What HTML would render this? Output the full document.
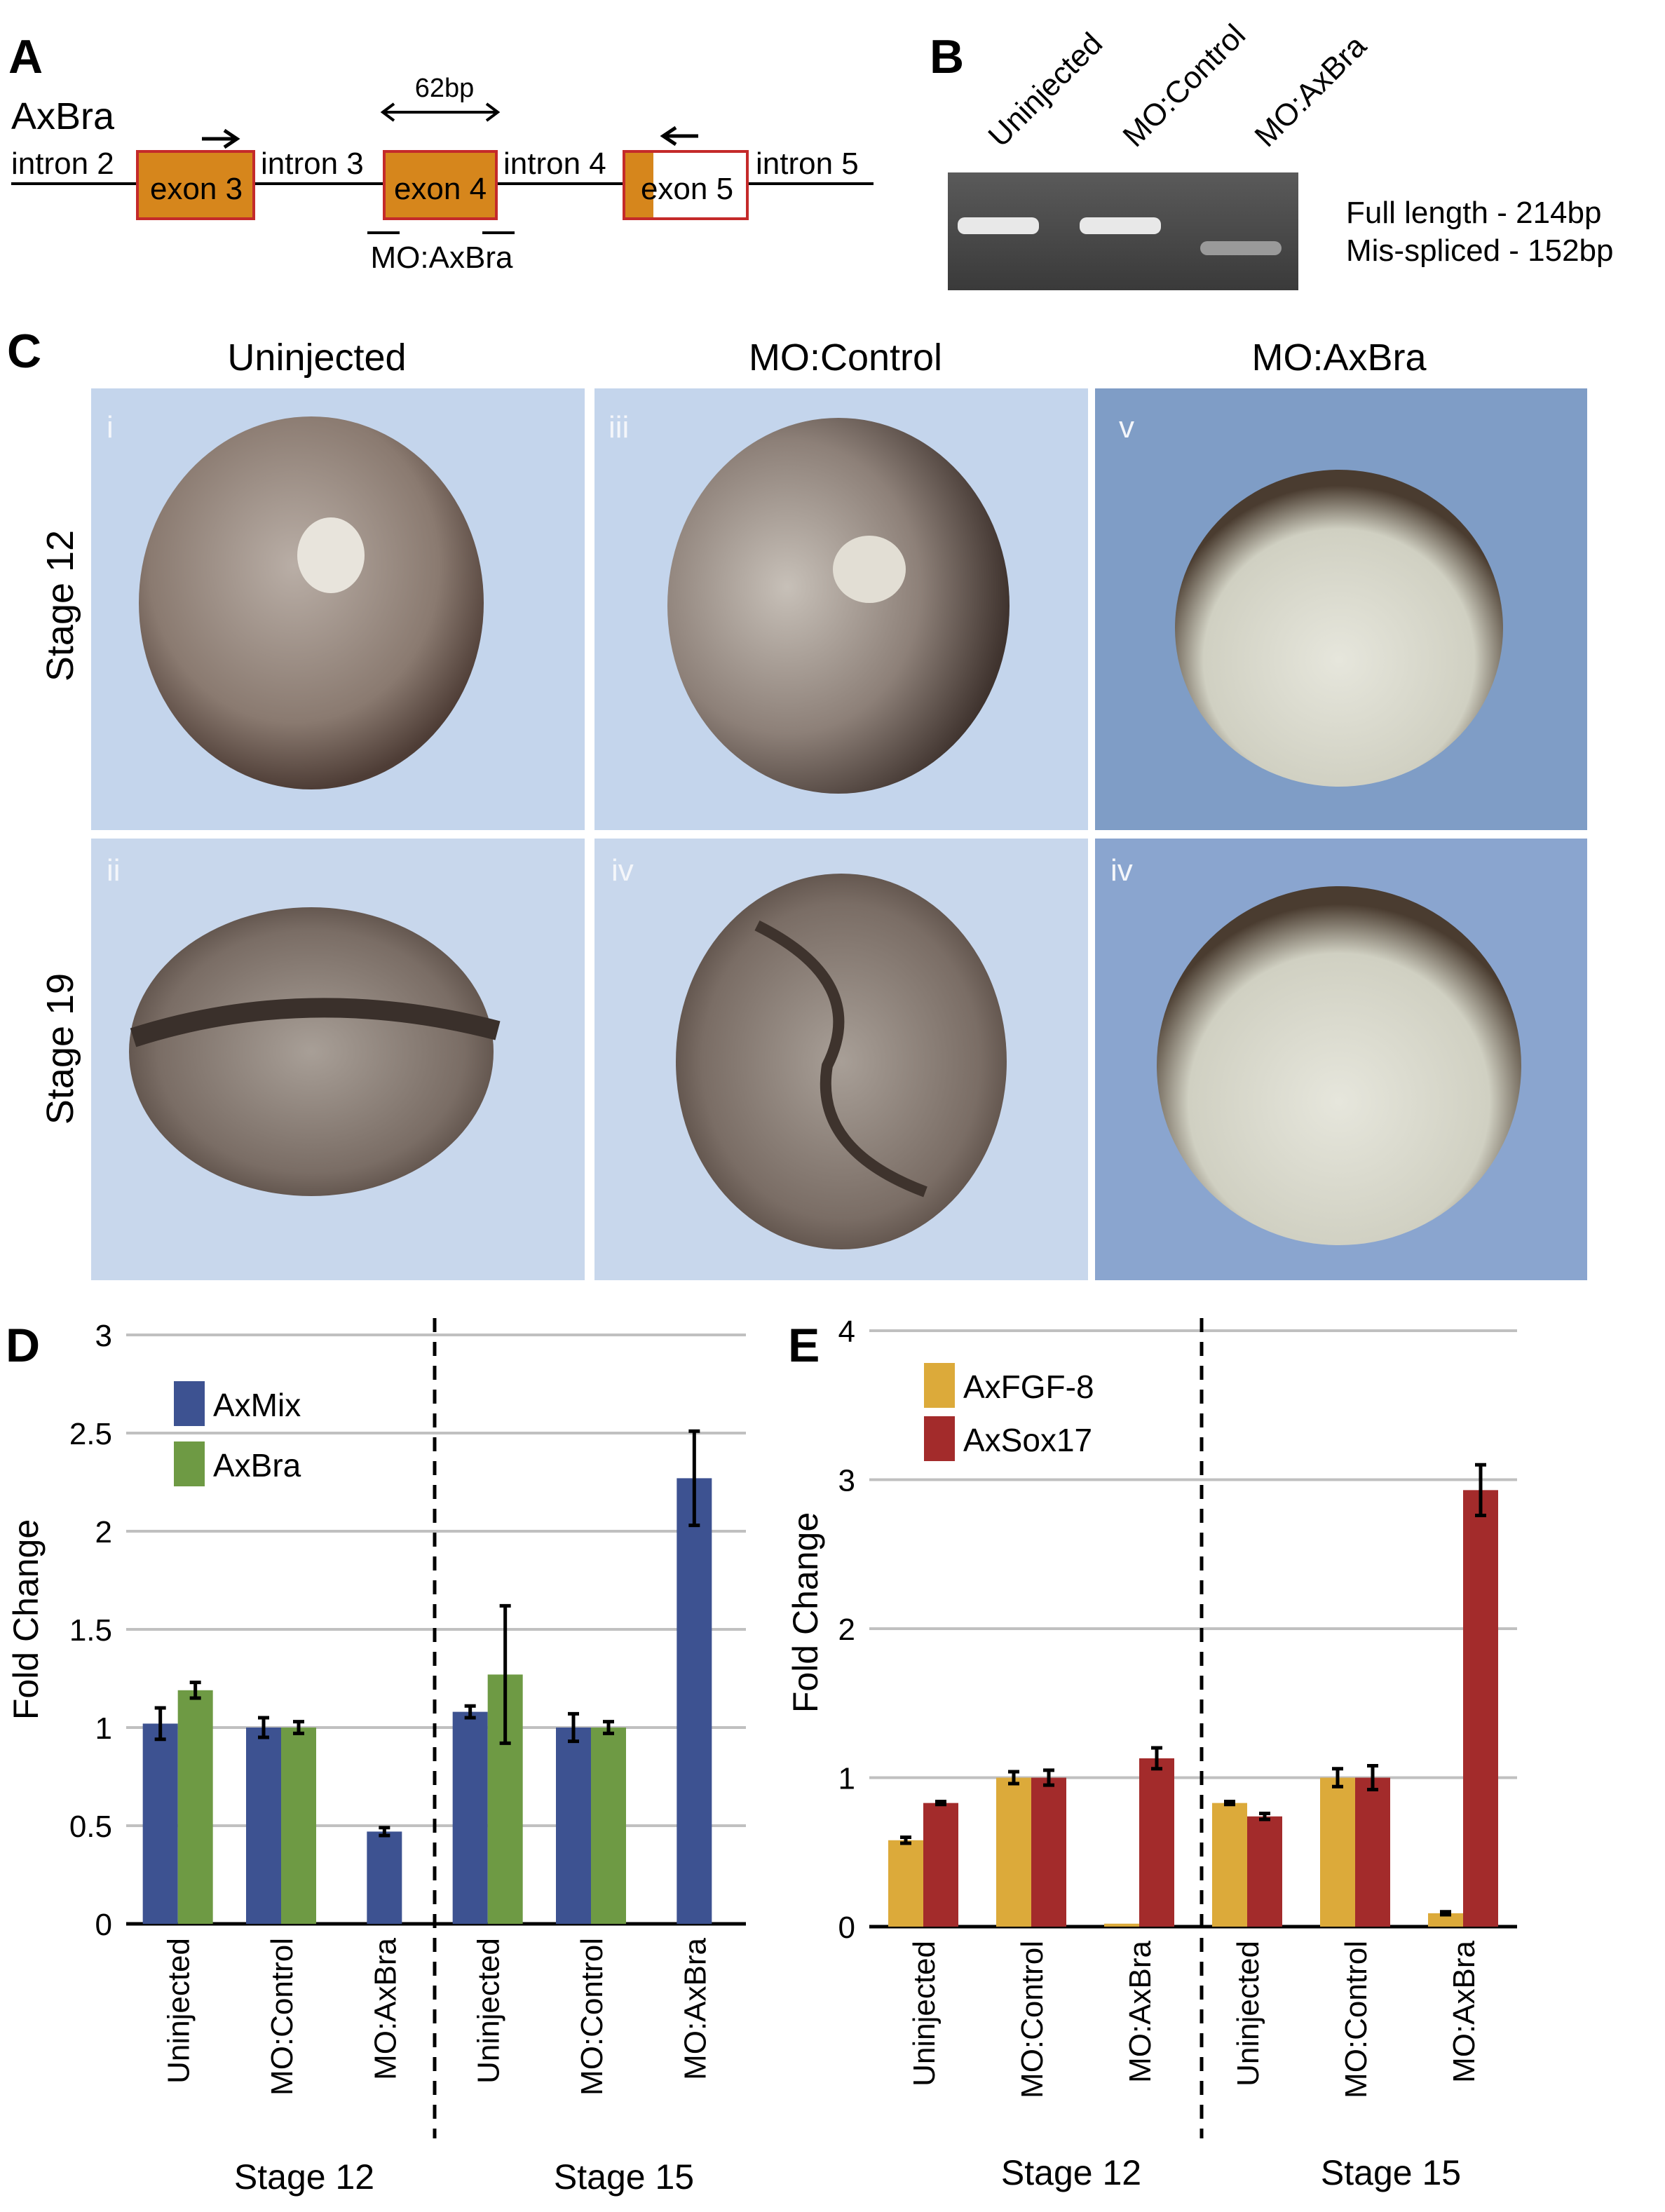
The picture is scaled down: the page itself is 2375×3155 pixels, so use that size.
<!DOCTYPE html>
<html><head><meta charset="utf-8"><style>
html,body{margin:0;padding:0;background:#fff}
svg{display:block;font-family:"Liberation Sans",Arial,sans-serif}
</style></head><body>
<svg id="fig" width="2375" height="3155" viewBox="0 0 1187.5 1577.5" xmlns="http://www.w3.org/2000/svg">
<defs>
<radialGradient id="emb1" cx="0.45" cy="0.4" r="0.6"><stop offset="0" stop-color="#b9aea6"/><stop offset="0.7" stop-color="#8a7a70"/><stop offset="1" stop-color="#4e3d36"/></radialGradient>
<radialGradient id="emb2" cx="0.35" cy="0.45" r="0.65"><stop offset="0" stop-color="#c7c0b8"/><stop offset="0.6" stop-color="#8d8078"/><stop offset="1" stop-color="#3f332e"/></radialGradient>
<radialGradient id="emb3" cx="0.5" cy="0.6" r="0.55"><stop offset="0" stop-color="#e6e6dc"/><stop offset="0.75" stop-color="#d0d0c2"/><stop offset="1" stop-color="#4a3c30"/></radialGradient>
<radialGradient id="emb4" cx="0.5" cy="0.5" r="0.6"><stop offset="0" stop-color="#a89f97"/><stop offset="0.7" stop-color="#7a6d65"/><stop offset="1" stop-color="#4a3d36"/></radialGradient>
<linearGradient id="gel" x1="0" y1="0" x2="0" y2="1"><stop offset="0" stop-color="#5a5a5a"/><stop offset="1" stop-color="#3a3a3a"/></linearGradient>
</defs>

<g>
<text x="6" y="52" font-size="34" font-weight="bold">A</text>
<text x="8" y="92" font-size="27">AxBra</text>
<line x1="8" y1="131" x2="623" y2="131" stroke="#000" stroke-width="2"/>
<rect x="98" y="108" width="83" height="48" fill="#d6861c" stroke="#c42a2a" stroke-width="2"/>
<rect x="274" y="108" width="80" height="48" fill="#d6861c" stroke="#c42a2a" stroke-width="2"/>
<rect x="445" y="108" width="88" height="48" fill="#fff" stroke="#c42a2a" stroke-width="2"/>
<rect x="446" y="109" width="20" height="46" fill="#d6861c"/>
<text x="140" y="142" font-size="22" text-anchor="middle">exon 3</text>
<text x="314" y="142" font-size="22" text-anchor="middle">exon 4</text>
<text x="490" y="142" font-size="22" text-anchor="middle">exon 5</text>
<rect x="6" y="103" width="88" height="26" fill="#fff"/><text x="8" y="124" font-size="22">intron 2</text>
<rect x="184" y="103" width="88" height="26" fill="#fff"/><text x="186" y="124" font-size="22">intron 3</text>
<rect x="357" y="103" width="86" height="26" fill="#fff"/><text x="359" y="124" font-size="22">intron 4</text>
<rect x="537" y="103" width="88" height="26" fill="#fff"/><text x="539" y="124" font-size="22">intron 5</text>
<line x1="144" y1="99" x2="168" y2="99" stroke="#000" stroke-width="2.5"/><path d="M160,93 L169,99 L160,105" fill="none" stroke="#000" stroke-width="2.5"/>
<line x1="474" y1="97" x2="498" y2="97" stroke="#000" stroke-width="2.5"/><path d="M482,91 L473,97 L482,103" fill="none" stroke="#000" stroke-width="2.5"/>
<line x1="274" y1="80" x2="354" y2="80" stroke="#000" stroke-width="2"/><path d="M281,74 L273,80 L281,86 M347,74 L355,80 L347,86" fill="none" stroke="#000" stroke-width="2"/>
<text x="317" y="69" font-size="19" text-anchor="middle">62bp</text>
<line x1="262" y1="166" x2="285" y2="166" stroke="#000" stroke-width="2"/><line x1="344" y1="166" x2="367" y2="166" stroke="#000" stroke-width="2"/>
<text x="315" y="191" font-size="22" text-anchor="middle">MO:AxBra</text>
</g>

<g>
<text x="663" y="52" font-size="34" font-weight="bold">B</text>
<text transform="translate(714,106) rotate(-45)" font-size="22">Uninjected</text>
<text transform="translate(810,106) rotate(-45)" font-size="22">MO:Control</text>
<text transform="translate(904,106) rotate(-45)" font-size="22">MO:AxBra</text>
<rect x="676" y="123" width="250" height="84" fill="url(#gel)"/>
<rect x="683" y="155" width="58" height="12" rx="5" fill="#e8e8e8"/>
<rect x="770" y="155" width="58" height="12" rx="5" fill="#e8e8e8"/>
<rect x="856" y="172" width="58" height="10" rx="5" fill="#9a9a9a"/>
<text x="960" y="159" font-size="22">Full length - 214bp</text>
<text x="960" y="186" font-size="22">Mis-spliced - 152bp</text>
</g>

<g>
<text x="5" y="262" font-size="34" font-weight="bold">C</text>
<text x="226" y="264" font-size="27" text-anchor="middle">Uninjected</text>
<text x="603" y="264" font-size="27" text-anchor="middle">MO:Control</text>
<text x="955" y="264" font-size="27" text-anchor="middle">MO:AxBra</text>
<text transform="translate(52,432) rotate(-90)" font-size="27" text-anchor="middle">Stage 12</text>
<text transform="translate(52,748) rotate(-90)" font-size="27" text-anchor="middle">Stage 19</text>
<rect x="65" y="277" width="352" height="315" fill="#c4d5ec"/>
<rect x="424" y="277" width="352" height="315" fill="#c4d5ec"/>
<rect x="781" y="277" width="351" height="315" fill="#7f9dc6"/>
<rect x="65" y="598" width="352" height="315" fill="#c8d7ec"/>
<rect x="424" y="598" width="352" height="315" fill="#c8d7ec"/>
<rect x="781" y="598" width="351" height="315" fill="#8aa5cf"/>
<ellipse cx="222" cy="430" rx="123" ry="133" fill="url(#emb1)"/>
<ellipse cx="236" cy="396" rx="24" ry="27" fill="#e8e4dc"/>
<ellipse cx="598" cy="432" rx="122" ry="134" fill="url(#emb2)"/>
<ellipse cx="620" cy="406" rx="26" ry="24" fill="#e2ded4"/>
<ellipse cx="955" cy="448" rx="117" ry="113" fill="url(#emb3)"/>
<ellipse cx="222" cy="750" rx="130" ry="103" fill="url(#emb4)"/>
<path d="M95,740 Q220,700 355,735" stroke="#3a302b" stroke-width="14" fill="none"/>
<ellipse cx="600" cy="757" rx="118" ry="134" fill="url(#emb4)"/>
<path d="M540,660 Q620,700 590,760 Q580,820 660,850" stroke="#3e332d" stroke-width="8" fill="none"/>
<ellipse cx="955" cy="760" rx="130" ry="128" fill="url(#emb3)"/>
<g font-size="22" fill="#f4f6fa"><text x="76" y="312">i</text><text x="434" y="312">iii</text><text x="798" y="312">v</text><text x="76" y="628">ii</text><text x="436" y="628">iv</text><text x="792" y="628">iv</text></g>
</g>

<g id="chartD"></g>
<g id="chartE"></g>
</svg>
<script>
const cats = ["Uninjected","MO:Control","MO:AxBra","Uninjected","MO:Control","MO:AxBra"];
const dTicks = [0,0.5,1,1.5,2,2.5,3];
const dMix = [1.02,1.0,0.47,1.08,1.0,2.27];
const dMixErr = [0.08,0.05,0.02,0.03,0.07,0.24];
const dBra = [1.19,1.0,null,1.27,1.0,null];
const dBraErr = [0.04,0.03,0,0.35,0.03,0];
const eTicks = [0,1,2,3,4];
const eFgf = [0.58,1.0,0.02,0.83,1.0,0.09];
const eFgfErr = [0.02,0.04,0,0.01,0.06,0.01];
const eSox = [0.83,1.0,1.13,0.74,1.0,2.93];
const eSoxErr = [0.01,0.05,0.07,0.02,0.08,0.17];
const NS="http://www.w3.org/2000/svg";
function mk(parent,tag,attrs,txt){const e=document.createElementNS(NS,tag);for(const k in attrs)e.setAttribute(k,attrs[k]);if(txt!=null)e.textContent=txt;parent.appendChild(e);return e;}

function chart(g,o){
  const y=v=>o.y0-(v-o.ymin)/(o.ymax-o.ymin)*(o.y0-o.y1);
  o.ticks.forEach(t=>{
    const l=mk(g,'line',{x1:o.x0,x2:o.x1,y1:y(t),y2:y(t),stroke:t===0?'#000':'#c0c0c0','stroke-width':t===0?2.5:2});
    
    
    const tx=mk(g,'text',{x:o.x0-10,y:y(t)+8,'font-size':22,'text-anchor':'end'},String(t));
    
    
  });
  const dl=mk(g,'line',{x1:o.dash,x2:o.dash,y1:o.dashY0,y2:o.dashY1,stroke:'#000','stroke-width':2.5,'stroke-dasharray':'10,7'});
  
  
  const gw=(o.x1-o.x0)/6, bw=25;
  cats.forEach((c,i)=>{
    const cx=o.x0+gw*(i+0.5);
    o.series.forEach((s,j)=>{
      const v=s.vals[i]; if(v==null) return;
      const bx=cx-bw+j*bw;
      const onlyOne=o.series.some((s2,k)=>k!==j&&s2.vals[i]==null);
      const x=onlyOne?cx-bw/2:bx;
      const r=mk(g,'rect',{x:x,y:y(v),width:bw,height:y(0)-y(v),fill:s.color});
      
      
      const e=s.err[i];
      if(e>0){
        const ex=x+bw/2;
        const eb=mk(g,'path',{d:`M${ex},${y(v-e)}V${y(v+e)}M${ex-4},${y(v-e)}H${ex+4}M${ex-4},${y(v+e)}H${ex+4}`,stroke:'#000','stroke-width':2.5,fill:'none'});
        
        
      }
    });
    const t=mk(g,'text',{transform:`translate(${cx+8},${o.y0+10}) rotate(-90)`,'font-size':22,'text-anchor':'end'},c);
    
    
  });
  [['Stage 12',o.s12],['Stage 15',o.s15]].forEach(([s,x])=>{
    const t=mk(g,'text',{x:x,y:o.stageY,'font-size':25,'text-anchor':'middle'},s);
    
    
  });
  const yt=mk(g,'text',{transform:`translate(${o.ytX},${o.ytY}) rotate(-90)`,'font-size':25,'text-anchor':'middle'},'Fold Change');
  
  
  const pl=mk(g,'text',{x:o.lblX,y:o.lblY,'font-size':34,'font-weight':'bold'},o.label);
  
  
  o.series.forEach((s,j)=>{
    const ly=o.legY+j*o.legDy;
    const r=mk(g,'rect',{x:o.legX,y:ly,width:22,height:32,fill:s.color});
    
    
    const t=mk(g,'text',{x:o.legX+28,y:ly+25,'font-size':23},s.label);
    
    
  });
}
chart(document.getElementById('chartD'),{x0:90,x1:532,y0:1372,y1:952,ymin:0,ymax:3,ticks:dTicks,dash:310,dashY0:940,dashY1:1525,stageY:1561,s12:217,s15:445,ytX:27,ytY:1155,lblX:4,lblY:971,label:'D',legX:124,legY:985,legDy:43,
 series:[{name:'axmix',label:'AxMix',color:'#3d5291',vals:dMix,err:dMixErr},{name:'axbra',label:'AxBra',color:'#6e9a44',vals:dBra,err:dBraErr}]});
chart(document.getElementById('chartE'),{x0:620,x1:1082,y0:1374,y1:949,ymin:0,ymax:4,ticks:eTicks,dash:857,dashY0:940,dashY1:1525,stageY:1558,s12:764,s15:992,ytX:583,ytY:1150,lblX:562,lblY:971,label:'E',legX:659,legY:972,legDy:38,
 series:[{name:'axfgf8',label:'AxFGF-8',color:'#dcaa3a',vals:eFgf,err:eFgfErr},{name:'axsox17',label:'AxSox17',color:'#a32b2b',vals:eSox,err:eSoxErr}]});
</script>
</body></html>
